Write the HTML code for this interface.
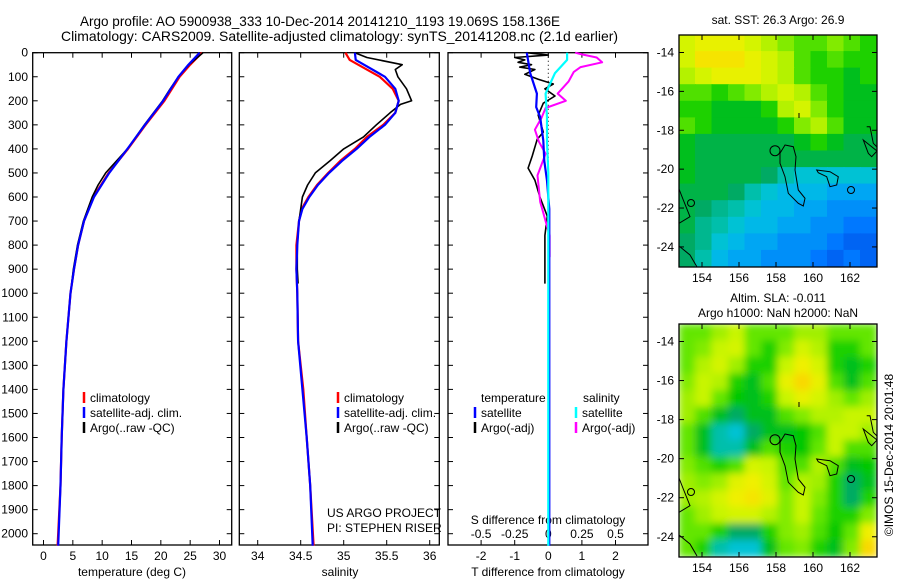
<!DOCTYPE html>
<html><head><meta charset="utf-8">
<style>
html,body{margin:0;padding:0;background:#fff;}
svg{display:block;font-family:"Liberation Sans",sans-serif;}
text{fill:#000;}
</style></head>
<body>
<svg id="fig" width="900" height="580" viewBox="0 0 900 580" xmlns="http://www.w3.org/2000/svg">
<rect width="900" height="580" fill="#fff"/>
<text x="80" y="26" font-size="14" textLength="480" lengthAdjust="spacingAndGlyphs">Argo profile: AO 5900938_333 10-Dec-2014 20141210_1193 19.069S 158.136E</text>
<text x="61" y="41" font-size="14" textLength="557" lengthAdjust="spacingAndGlyphs">Climatology: CARS2009. Satellite-adjusted climatology: synTS_20141208.nc (2.1d earlier)</text>
<text x="778" y="24" font-size="12" text-anchor="middle">sat. SST: 26.3 Argo: 26.9</text>
<text x="778" y="302" font-size="12" text-anchor="middle">Altim. SLA: -0.011</text>
<text x="778" y="317" font-size="12" text-anchor="middle">Argo h1000: NaN h2000: NaN</text>
<text transform="translate(893,455) rotate(-90)" font-size="12" text-anchor="middle">©IMOS 15-Dec-2014 20:01:48</text>
<g id="g1"></g><g id="g2"></g><g id="g3"></g><g id="m1"></g><g id="m2"></g>
</svg>
<script>
// ---------- profile data ----------
const depthT = [0,50,100,150,200,300,400,500,600,700,800,900,1000,1200,1400,1600,1800,2050];
const tempClim = [27.0,25.0,23.2,21.9,20.6,17.4,14.4,11.1,8.5,6.9,5.9,5.2,4.6,3.9,3.4,3.1,2.9,2.4];
const tempSat  = [26.6,24.7,23.0,21.7,20.4,17.3,14.3,11.2,8.6,6.9,5.9,5.2,4.6,3.9,3.4,3.1,2.9,2.5];
const depthArgoT = [0,50,100,150,200,300,400,500,550,600,700,800,900,960];
const tempArgo = [27.2,24.8,23.0,21.6,20.3,17.2,14.3,10.6,9.3,8.3,6.8,5.8,5.1,4.8];

const depthS = [0,30,100,150,200,250,300,350,400,450,500,550,600,650,700,800,900,1000,1200,1400,1600,1800,2050];
const salClim = [35.02,35.07,35.42,35.57,35.64,35.60,35.46,35.27,35.13,34.96,34.82,34.69,34.59,34.51,34.48,34.45,34.45,34.46,34.47,34.53,34.57,34.61,34.65];
const salSat  = [35.13,35.14,35.48,35.60,35.64,35.60,35.48,35.30,35.15,34.98,34.83,34.70,34.60,34.52,34.48,34.46,34.45,34.46,34.47,34.52,34.57,34.61,34.64];
const depthArgoS = [0,20,50,70,100,150,200,215,250,300,350,400,450,500,550,600,700,800,900,960];
const salArgo = [35.13,35.27,35.68,35.60,35.63,35.73,35.79,35.66,35.54,35.38,35.23,35.00,34.84,34.67,34.58,34.52,34.48,34.46,34.46,34.47];

const depthDT = [0,85,170,226,268,365,450,532,650,800,1000,1500,2050];
const dTsat = [-0.64,-0.54,-0.34,-0.36,-0.24,-0.15,-0.12,-0.04,0.03,0.03,0.03,0.03,0.03];
const depthDTa = [0,10,20,30,40,50,60,70,90,110,130,150,180,210,260,330,360,430,480,530,600,680,760,800,960];
const dTargo = [-0.65,0.0,-1.0,-0.7,-0.9,-0.5,-0.85,-0.4,-0.7,-0.3,0.15,-0.1,0.2,-0.15,-0.3,-0.15,-0.33,-0.48,-0.6,-0.4,-0.25,-0.03,-0.1,-0.1,-0.1];
const depthDS = [0,30,85,170,270,370,500,800,1200,1600,2050];
const dSsat = [0.14,0.14,0.05,-0.02,-0.01,-0.01,0.0,0.0,0.0,0.0,0.0];
const depthDSa = [0,7,20,40,60,80,120,170,200,230,270,320,370,420,510,620,700,760,850];
const dSargo = [0.2,0.25,0.36,0.40,0.24,0.19,0.15,0.07,0.13,-0.02,-0.05,-0.1,-0.07,-0.02,-0.08,-0.06,-0.02,0.01,0.01];

const tempTicks = [0,5,10,15,20,25,30];
const salTicks = [34,34.5,35,35.5,36];
const dTTicks = [-2,-1,0,1,2];
const dSTicks = [-0.5,-0.25,0,0.25,0.5];
const depthTicks = [0,100,200,300,400,500,600,700,800,900,1000,1100,1200,1300,1400,1500,1600,1700,1800,1900,2000];

// ---------- map data (0 = blue ... 1 = orange) ----------
const mapLon = [153.0,163.7];
const mapLat = [-13.1,-25.0];
const sstGrid = [
[.75,.8,.8,.8,.75,.7,.65,.6,.6,.65,.6,.55],
[.75,.85,.85,.85,.8,.75,.7,.6,.55,.6,.55,.55],
[.7,.75,.8,.8,.8,.75,.7,.6,.55,.55,.5,.55],
[.6,.6,.55,.6,.65,.7,.75,.7,.6,.55,.5,.5],
[.55,.55,.5,.5,.5,.55,.7,.75,.65,.55,.5,.5],
[.6,.55,.5,.5,.5,.5,.55,.65,.7,.6,.5,.5],
[.5,.47,.47,.47,.47,.47,.47,.5,.55,.5,.47,.47],
[.5,.47,.47,.47,.47,.47,.47,.47,.47,.47,.47,.47],
[.5,.47,.47,.47,.47,.45,.4,.35,.35,.35,.35,.35],
[.47,.47,.47,.45,.4,.35,.3,.3,.3,.25,.25,.25],
[.47,.45,.42,.4,.35,.3,.3,.25,.25,.2,.2,.2],
[.47,.42,.4,.35,.3,.3,.25,.25,.2,.2,.15,.15],
[.45,.42,.35,.3,.25,.25,.2,.2,.2,.15,.1,.1],
[.45,.4,.3,.25,.25,.2,.2,.2,.15,.1,.15,.1]];
const slaGrid = [
[.62,.62,.68,.72,.62,.62,.62,.68,.68,.62,.62,.62],
[.62,.65,.72,.75,.62,.55,.65,.75,.7,.55,.55,.62],
[.62,.7,.75,.68,.55,.55,.72,.82,.75,.55,.5,.55],
[.65,.72,.7,.55,.5,.6,.8,.88,.8,.6,.5,.6],
[.68,.72,.62,.52,.5,.55,.72,.8,.75,.68,.62,.68],
[.68,.6,.5,.45,.5,.5,.6,.65,.7,.7,.72,.72],
[.62,.5,.4,.35,.45,.5,.5,.52,.6,.72,.72,.68],
[.62,.5,.4,.4,.5,.6,.55,.52,.62,.72,.6,.6],
[.65,.6,.55,.6,.75,.72,.6,.6,.7,.6,.5,.52],
[.68,.65,.68,.78,.82,.75,.62,.7,.68,.55,.45,.5],
[.68,.7,.75,.82,.85,.78,.65,.72,.65,.55,.45,.55],
[.62,.68,.72,.75,.75,.7,.65,.72,.62,.55,.55,.65],
[.62,.62,.55,.45,.45,.55,.65,.68,.6,.52,.62,.82],
[.62,.55,.4,.35,.35,.5,.62,.65,.55,.5,.65,.88]];
const lonTicks = [154,156,158,160,162];
const latTicks = [-14,-16,-18,-20,-22,-24];

const NS = "http://www.w3.org/2000/svg";
function mk(tag, parent, attrs){ const e=document.createElementNS(NS,tag); for(const k in attrs) e.setAttribute(k,attrs[k]); parent.appendChild(e); return e; }
function txt(parent, x, y, s, size, anchor){ const t=mk('text',parent,{x:x,y:y,'font-size':size,'text-anchor':anchor||'start'}); t.textContent=s; return t; }

const TOP=52.7, BOT=545, D2Y=0.2405;
const yD = d => TOP + d*D2Y;
function scale(v0,p0,v1,p1){ return v => p0 + (v-v0)*(p1-p0)/(v1-v0); }

function frame(g, x0, x1){
  const r=mk('rect',g,{x:x0,y:TOP,width:x1-x0,height:BOT-TOP,fill:'none',stroke:'#000','stroke-width':1.3});
  
  
  depthTicks.forEach(d=>{
    mk('line',g,{x1:x0,y1:yD(d),x2:x0+5,y2:yD(d),stroke:'#000'});
    mk('line',g,{x1:x1,y1:yD(d),x2:x1-5,y2:yD(d),stroke:'#000'});
  });
}
function xticks(g, ticks, sx, labels){
  ticks.forEach(v=>{
    mk('line',g,{x1:sx(v),y1:TOP,x2:sx(v),y2:TOP+5,stroke:'#000'});
    mk('line',g,{x1:sx(v),y1:BOT,x2:sx(v),y2:BOT-5,stroke:'#000'});
    if(labels){ const t=txt(g,sx(v),560,String(v),12,'middle');
      
       }
  });
}
function line(g, xs, ds, sx, color, name, w){
  const pts = xs.map((v,i)=>sx(v).toFixed(1)+','+yD(ds[i]).toFixed(1)).join(' ');
  const p=mk('polyline',g,{points:pts,fill:'none',stroke:color,'stroke-width':w||2,'stroke-linejoin':'round'});
  
  
}
function legendEntry(g, x, y, color, label){
  const e=mk('g',g,{});
  
  
  mk('line',e,{x1:x,y1:y-10,x2:x,y2:y+1,stroke:color,'stroke-width':2.5});
  txt(e,x+6,y,label,12);
}

// panel 1
const g1=document.getElementById('g1');


const sT = scale(0,43.5,30,219.5);
frame(g1,32.7,231.7);
xticks(g1,tempTicks,sT,true);
depthTicks.forEach(d=>{ const t=txt(g1,28,yD(d)+4,String(d),12,'end');
  
   });
line(g1,tempClim,depthT,sT,'#f00','temp-climatology-line',2.2);
line(g1,tempArgo,depthArgoT,sT,'#000','temp-argo-line',1.6);
line(g1,tempSat,depthT,sT,'#00f','temp-satellite-line',2.2);
legendEntry(g1,84,402,'#f00','climatology');
legendEntry(g1,84,417,'#00f','satellite-adj. clim.');
legendEntry(g1,84,432,'#000','Argo(..raw -QC)');
const xl1=txt(g1,132,576,'temperature (deg C)',12,'middle');



// panel 2
const g2=document.getElementById('g2');


const sS = scale(34,257.7,36,429.7);
frame(g2,239.3,439.3);
xticks(g2,salTicks,sS,true);
line(g2,salClim,depthS,sS,'#f00','sal-climatology-line',2.2);
line(g2,salArgo,depthArgoS,sS,'#000','sal-argo-line',1.6);
line(g2,salSat,depthS,sS,'#00f','sal-satellite-line',2.2);
legendEntry(g2,338,402,'#f00','climatology');
legendEntry(g2,338,417,'#00f','satellite-adj. clim.');
legendEntry(g2,338,432,'#000','Argo(..raw -QC)');
txt(g2,327,517,'US ARGO PROJECT',12);
txt(g2,327,532,'PI: STEPHEN RISER',12);
const xl2=txt(g2,340,576,'salinity',12,'middle');



// panel 3
const g3=document.getElementById('g3');


const sDT = scale(0,548.3,2,615.5);
const sDS = scale(0,548.3,0.5,615.5);
frame(g3,448,648);
xticks(g3,dTTicks,sDT,true);
mk('line',g3,{x1:sDT(0),y1:TOP,x2:sDT(0),y2:BOT,stroke:'#000','stroke-dasharray':'1,3'});
dSTicks.forEach(v=>{ txt(g3,sDS(v),538,String(v),12,'middle'); });
txt(g3,548,524,'S difference from climatology',12,'middle');
line(g3,dTargo,depthDTa,sDT,'#000','dT-argo-line',1.6);
line(g3,dSargo,depthDSa,sDS,'#f0f','dS-argo-line',2);
line(g3,dTsat,depthDT,sDT,'#00f','dT-satellite-line',2.2);
line(g3,dSsat,depthDS,sDS,'#0ff','dS-satellite-line',2.2);
txt(g3,481,402,'temperature',12);
txt(g3,583,402,'salinity',12);
legendEntry(g3,475,417,'#00f','satellite');
legendEntry(g3,475,432,'#000','Argo(-adj)');
legendEntry(g3,576,417,'#0ff','satellite');
legendEntry(g3,576,432,'#f0f','Argo(-adj)');
const xl3=txt(g3,548,576,'T difference from climatology',12,'middle');



// ---------- maps ----------
const stops=[[0,[0,60,220]],[.15,[0,120,255]],[.28,[0,180,240]],[.38,[0,200,200]],[.45,[0,170,100]],[.52,[0,200,0]],[.62,[100,230,0]],[.72,[200,245,0]],[.82,[240,240,0]],[.92,[255,200,0]],[1,[255,150,0]]];
function cmap(v){
  for(let i=1;i<stops.length;i++){ if(v<=stops[i][0]){ const a=stops[i-1],b=stops[i],f=(v-a[0])/(b[0]-a[0]);
    return 'rgb('+a[1].map((c,j)=>Math.round(c+(b[1][j]-c)*f)).join(',')+')'; } }
  return 'rgb(255,150,0)';
}
const coast = [
 "M785,145 L793.3,146.7 L796,156.7 L795,170 L798.3,190 L805,198.3 L803.3,206 L798.3,203.3 L788.3,193.3 L785,176.7 L780,163.3 L780,153.3 Z",
 "M816.7,170 L830,171.7 L838.3,176.7 L836.7,185 L830,186.7 L826.7,176.7 L818.3,172.7 Z",
 "M866.7,126.7 L870,126.7 L873.3,143.3 L877,147 M877,151 L871.7,156.7 L868.3,153.3 L863.3,140 Z",
 "M679,189 L683.3,200 L690,216.7 L679,223.3",
 "M679,246 L690,255 L697,267",
 "M799,113 L799,118"
];
function drawMap(id, grid, top, bot, name, smooth){
  const g=document.getElementById(id);
  
  
  const L=679,R=877;
  const sx=scale(154,702,162,850);
  const sy=scale(-14,top+17.5,-24,top+17.5+(bot-top)*0.838);
  const cid='clip'+id;
  const cp=mk('clipPath',g,{id:cid}); mk('rect',cp,{x:L,y:top,width:R-L,height:bot-top});
  const cells=mk('g',g,{'clip-path':'url(#'+cid+')'});
  const inner=mk('g',cells,smooth?{filter:'url(#blur)'}:{});
  const nr=grid.length,nc=grid[0].length;
  const gx=scale(mapLon[0],L,mapLon[1],R), gy=scale(mapLat[0],top,mapLat[1],bot);
  const dLon=(mapLon[1]-mapLon[0])/nc, dLat=(mapLat[1]-mapLat[0])/nr;
  grid.forEach((row,i)=>row.forEach((v,j)=>{
    const x0=gx(mapLon[0]+j*dLon), y0=gy(mapLat[0]+i*dLat);
    const c=mk('rect',inner,{x:(x0-0.5).toFixed(1),y:(y0-0.5).toFixed(1),width:((R-L)/nc+1).toFixed(1),height:((bot-top)/nr+1).toFixed(1),fill:cmap(v)});
    
    
  }));
  const cg=mk('g',cells,{transform:'translate(0,'+(top-35)+')',fill:'none',stroke:'#000','stroke-width':1});
  coast.forEach(d=>mk('path',cg,{d:d}));
  mk('circle',cg,{cx:775,cy:150.7,r:5});
  mk('circle',cg,{cx:851,cy:190,r:3.5});
  mk('circle',cg,{cx:691,cy:203,r:3.5});
  mk('rect',g,{x:L,y:top,width:R-L,height:bot-top,fill:'none',stroke:'#000','stroke-width':1.3});
  lonTicks.forEach(v=>{
    mk('line',g,{x1:sx(v),y1:top,x2:sx(v),y2:top+5,stroke:'#000'});
    mk('line',g,{x1:sx(v),y1:bot,x2:sx(v),y2:bot-5,stroke:'#000'});
    const t=txt(g,sx(v),bot+15,String(v),12,'middle');
    
    
  });
  latTicks.forEach(v=>{
    mk('line',g,{x1:L,y1:sy(v),x2:L+5,y2:sy(v),stroke:'#000'});
    mk('line',g,{x1:R,y1:sy(v),x2:R-5,y2:sy(v),stroke:'#000'});
    const t=txt(g,674,sy(v)+4,String(v),12,'end');
    
    
  });
}
const defs=mk('defs',document.getElementById('fig'),{});
const f=mk('filter',defs,{id:'blur',x:'-5%',y:'-5%',width:'110%',height:'110%'});
mk('feGaussianBlur',f,{stdDeviation:4,edgeMode:'duplicate'});
drawMap('m1',sstGrid,35,267,'sst-map',false);
drawMap('m2',slaGrid,324,557,'sla-map',true);
</script>
</body></html>
